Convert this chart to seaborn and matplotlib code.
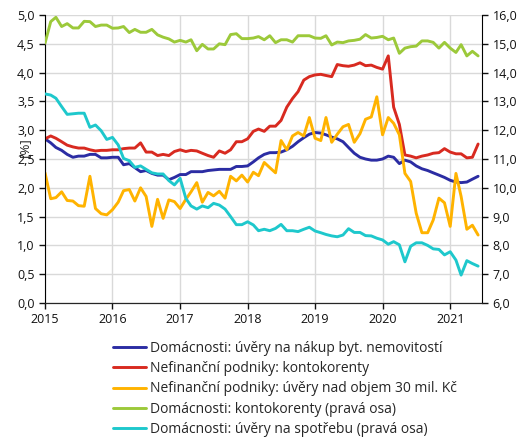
import numpy as np
import pandas as pd
import matplotlib
matplotlib.use('Agg')
import matplotlib.pyplot as plt
import matplotlib.dates as mdates
from matplotlib.ticker import FuncFormatter, MultipleLocator
import seaborn as sns

# mesicni data 1/2015 - 6/2021
months = pd.date_range('2015-01-01', periods=78, freq='MS')

# leva osa [%]
dom_bydleni = [2.85, 2.78, 2.70, 2.65, 2.58, 2.53, 2.55, 2.55, 2.58, 2.58, 2.52, 2.52,
               2.53, 2.53, 2.40, 2.42, 2.35, 2.28, 2.30, 2.25, 2.22, 2.22, 2.14, 2.18,
               2.23, 2.23, 2.28, 2.28, 2.28, 2.30, 2.31, 2.32, 2.32, 2.32, 2.37, 2.37,
               2.38, 2.45, 2.52, 2.58, 2.61, 2.61, 2.62, 2.66, 2.72, 2.80, 2.87, 2.93,
               2.96, 2.95, 2.92, 2.88, 2.85, 2.80, 2.70, 2.60, 2.53, 2.50, 2.48, 2.48,
               2.50, 2.55, 2.53, 2.42, 2.48, 2.45, 2.38, 2.33, 2.30, 2.26, 2.22, 2.18,
               2.13, 2.10, 2.09, 2.10, 2.15, 2.20]
nfp_kontokorenty = [2.85, 2.90, 2.86, 2.80, 2.74, 2.71, 2.69, 2.69, 2.66, 2.64, 2.65, 2.65,
                    2.66, 2.66, 2.68, 2.69, 2.69, 2.78, 2.62, 2.62, 2.56, 2.58, 2.56, 2.63,
                    2.66, 2.63, 2.65, 2.64, 2.60, 2.56, 2.53, 2.64, 2.60, 2.66, 2.80, 2.80,
                    2.85, 2.98, 3.02, 2.98, 3.07, 3.07, 3.17, 3.40, 3.55, 3.67, 3.87, 3.93,
                    3.96, 3.97, 3.95, 3.93, 4.14, 4.12, 4.11, 4.13, 4.17, 4.12, 4.13, 4.09,
                    4.06, 4.29, 3.40, 3.10, 2.57, 2.55, 2.52, 2.55, 2.57, 2.60, 2.61, 2.68,
                    2.62, 2.59, 2.59, 2.52, 2.53, 2.76]
nfp_nad30 = [2.26, 1.81, 1.83, 1.93, 1.78, 1.77, 1.69, 1.68, 2.20, 1.64, 1.55, 1.53,
             1.62, 1.75, 1.95, 1.97, 1.77, 2.00, 1.85, 1.33, 1.80, 1.47, 1.79, 1.76,
             1.64, 1.80, 1.93, 2.09, 1.75, 1.92, 1.86, 1.94, 1.82, 2.20, 2.12, 2.22,
             2.10, 2.27, 2.21, 2.44, 2.35, 2.26, 2.82, 2.66, 2.90, 2.96, 2.90, 3.22,
             2.86, 2.82, 3.22, 2.79, 2.93, 3.06, 3.10, 2.79, 2.94, 3.19, 3.23, 3.58,
             2.92, 3.22, 3.12, 2.92, 2.25, 2.11, 1.56, 1.22, 1.22, 1.44, 1.82, 1.74,
             1.33, 2.25, 1.85, 1.28, 1.35, 1.18]

# prava osa [%]
dom_kontokorenty = [15.02, 15.77, 15.92, 15.60, 15.70, 15.55, 15.55, 15.78, 15.77, 15.60, 15.65, 15.65,
                    15.54, 15.55, 15.60, 15.39, 15.50, 15.40, 15.40, 15.50, 15.31, 15.23, 15.17, 15.06,
                    15.12, 15.06, 15.14, 14.76, 14.98, 14.82, 14.82, 15.00, 14.97, 15.32, 15.35, 15.18,
                    15.18, 15.20, 15.25, 15.14, 15.28, 15.04, 15.14, 15.14, 15.06, 15.28, 15.28, 15.28,
                    15.20, 15.19, 15.28, 14.96, 15.06, 15.04, 15.10, 15.12, 15.16, 15.32, 15.20, 15.22,
                    15.26, 15.14, 15.20, 14.67, 14.85, 14.90, 14.92, 15.10, 15.10, 15.05, 14.85, 15.05,
                    14.85, 14.70, 14.97, 14.58, 14.74, 14.58]
dom_spotreba = [13.26, 13.22, 13.11, 12.82, 12.55, 12.57, 12.59, 12.59, 12.10, 12.18, 11.98, 11.68,
                11.75, 11.49, 11.02, 10.94, 10.71, 10.76, 10.64, 10.52, 10.48, 10.48, 10.25, 10.10,
                10.33, 9.63, 9.37, 9.26, 9.37, 9.31, 9.46, 9.40, 9.26, 9.00, 8.72, 8.72,
                8.82, 8.71, 8.51, 8.56, 8.51, 8.59, 8.73, 8.51, 8.51, 8.48, 8.56, 8.63,
                8.50, 8.44, 8.38, 8.33, 8.30, 8.36, 8.58, 8.45, 8.45, 8.34, 8.33, 8.25,
                8.19, 8.04, 8.13, 8.02, 7.43, 7.97, 8.09, 8.09, 8.00, 7.88, 7.86, 7.67,
                7.78, 7.49, 6.97, 7.47, 7.37, 7.28]

labels = ['Domácnosti: úvěry na nákup byt. nemovitostí',
          'Nefinanční podniky: kontokorenty',
          'Nefinanční podniky: úvěry nad objem 30 mil. Kč',
          'Domácnosti: kontokorenty (pravá osa)',
          'Domácnosti: úvěry na spotřebu (pravá osa)']
colors = ['#2b2ca3', '#d82a20', '#ffb300', '#9cc93a', '#1ec8cc']

sns.set_style('ticks')
plt.rcParams['font.family'] = ['Open Sans', 'DejaVu Sans']
plt.rcParams['font.size'] = 9

fig = plt.figure(figsize=(5.32, 4.42), dpi=100)
ax = fig.add_axes([45 / 532, 1 - 303 / 442, 437 / 532, 288 / 442])
ax2 = ax.twinx()

df = pd.DataFrame({'datum': months})
left = [dom_bydleni, nfp_kontokorenty, nfp_nad30]
right = [dom_kontokorenty, dom_spotreba]
for vals, lab, col in zip(left, labels[:3], colors[:3]):
    sns.lineplot(x=df['datum'], y=vals, ax=ax, color=col, linewidth=2.1, label=lab, legend=False)
for vals, lab, col in zip(right, labels[3:], colors[3:]):
    sns.lineplot(x=df['datum'], y=vals, ax=ax2, color=col, linewidth=2.1, label=lab, legend=False)

ax.set_ylim(0, 5)
ax2.set_ylim(6, 16)
ax.set_xlim(pd.Timestamp('2015-01-01'), pd.Timestamp('2021-06-22'))
ax.yaxis.set_major_locator(MultipleLocator(0.5))
ax2.yaxis.set_major_locator(MultipleLocator(1))
fmt = FuncFormatter(lambda v, p: f'{v:.1f}'.replace('.', ','))
ax.yaxis.set_major_formatter(fmt)
ax2.yaxis.set_major_formatter(fmt)
ax.xaxis.set_major_locator(mdates.YearLocator())
ax.xaxis.set_major_formatter(mdates.DateFormatter('%Y'))
ax.set_xlabel('')
ax.set_ylabel('')
ax2.set_ylabel('')

ax.grid(True, color='#d9d9d9', linewidth=1)
ax2.grid(False)
for a in (ax, ax2):
    a.spines['top'].set_visible(False)
    a.tick_params(direction='out', length=4, width=1, colors='#111111', labelsize=9)
ax.spines['right'].set_visible(False)
ax2.spines['left'].set_visible(False)
for s in ('left', 'bottom'):
    ax.spines[s].set_color('black')
ax2.spines['right'].set_color('black')

fig.text(24 / 532, 1 - 147 / 442, '[%]', rotation=90, ha='center', va='center', fontsize=9.5)

handles = ax.get_lines() + ax2.get_lines()
fig.legend(handles, labels, loc='upper left', bbox_to_anchor=(106 / 532, 1 - 334 / 442),
           frameon=False, borderpad=0, handlelength=2.4, handletextpad=0.25,
           labelspacing=0.38, fontsize=10)

fig.savefig('out.png', dpi=100)
